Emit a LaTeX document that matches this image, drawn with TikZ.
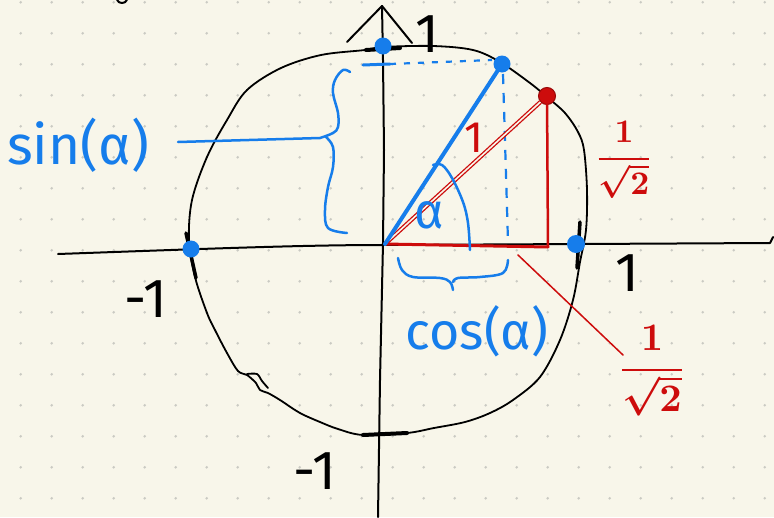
\documentclass[tikz,border=0pt]{standalone}
\usepackage{fontspec}
\usepackage{amsmath}
\usepackage{graphicx}
\setmainfont{Fira Sans}
\definecolor{bg}{RGB}{248,246,234}
\definecolor{dotc}{RGB}{202,202,195}
\definecolor{pblue}{RGB}{22,125,235}
\definecolor{pred}{RGB}{205,12,12}
\begin{document}
\begin{tikzpicture}[x=1pt,y=-1pt,
  ink/.style={draw=black,line width=2pt,line cap=round,line join=round},
  tickmark/.style={draw=black,line width=4pt,line cap=round},
  bink/.style={draw=pblue,line width=3pt,line cap=round,line join=round},
  rink/.style={draw=pred,line width=2.5pt,line cap=round,line join=round},
  bdot/.style={circle,fill=pblue,inner sep=0pt,minimum size=17pt},
  rdot/.style={circle,fill=pred,draw=pred!75!black,line width=1pt,inner sep=0pt,minimum size=17pt},
  lbl/.style={inner sep=0pt,font=\fontsize{55}{60}\selectfont},
]
\useasboundingbox (0,0) rectangle (774,517);
\fill[bg] (0,0) rectangle (774,517);
\foreach \i in {0,...,24} \foreach \j in {0,...,16} \fill[dotc] (20.7+31*\i,2.3+31*\j) circle (1.4pt);

% named points
\coordinate (O) at (385,244);
\coordinate (ytop) at (382,6);
\coordinate (ybot) at (378,517);
\coordinate (xl) at (58,254);
\coordinate (xr) at (770,243);
\coordinate (F) at (548,247);
\coordinate (Py) at (390,64);
\coordinate (Pyend) at (492,60);
\coordinate (Pxtop) at (503,74);
\coordinate (Px) at (508,242);
\coordinate (sinstart) at (178,142);
\coordinate (sincusp) at (320,138);
\coordinate (rl1) at (518,255);
\coordinate (rl2) at (623,355);

% stray mark at top left
\draw[ink] (117,0) .. controls (119,4) and (125,4) .. (127,0);

% axes
\draw[ink] (xl) .. controls (200,249) and (300,245) .. (383,245) -- (582,244) -- (xr) -- (773,237);
\draw[ink] (ytop) -- (383,60) -- (384,150) -- (383,243) -- (380,380) -- (ybot);
\draw[ink] (347,42) -- (ytop) -- (412,43);

% circle
\draw[ink,line width=1.8pt] plot[smooth cycle,tension=0.55] coordinates {
 (383,47) (433,46) (473,50) (500,62) (530,83) (547,97) (565,113) (578,132) (584,150)
 (587,190) (586,230) (580,262) (573,300) (560,340) (540,377) (513,400) (490,413)
 (465,422) (434,428) (407,433) (363,435) (338,429) (320,422) (300,413) (280,400)
 (268,393) (260,390) (256,383) (247,375) (238,371) (227,353) (215,330) (207,313)
 (195,277) (189,240) (192,200) (207,157) (227,120) (247,90) (281,68) (321,55) (365,50)};
\draw[ink,line width=1.8pt] plot[smooth,tension=0.5] coordinates {(247,374) (257,374) (262,381) (268,388)};

% ticks on the circle
\draw[tickmark] (366,50) -- (400,48);
\draw[tickmark] (363,435) -- (407,433);
\draw[tickmark,line width=3.5pt] (186,233) -- (196,278);
\draw[tickmark,line width=3.5pt] (580,222) -- (577,268);

% points on the circle
\node[bdot,minimum width=15pt] (Ntop) at (383,46) {};
\node[bdot] (Nleft) at (191,249) {};
\node[bdot,minimum size=18pt] (Nright) at (576,244) {};
\node[bdot] (P) at (502,64) {};
\node[rdot] (R) at (547,96) {};

% blue projections
\draw[pblue,line width=3pt,line cap=round] (363,65) -- (Py);
\draw[pblue,line width=2.2pt,dash pattern=on 6pt off 8pt] (Py) -- (Pyend);
\draw[pblue,line width=2.2pt,dash pattern=on 10pt off 9pt] (Pxtop) -- (Px);

% red triangle
\draw[pred,line width=1.3pt,double=bg,double distance=1.6pt] (O) -- (R);
\draw[rink,line width=3pt] (O) -- (F);
\draw[rink] (R) -- (F);
\draw[pred,line width=1.5pt,line cap=round] (rl1) -- (rl2);

% blue radius
\draw[bink,line width=4pt] (O) -- (P);

% angle arc
\draw[bink,line width=2.5pt] plot[smooth,tension=0.6] coordinates {(433,165) (442,165) (452,178) (463,202) (468,223) (470,250)};

% cos brace
\draw[bink,line width=2.5pt] plot[smooth,tension=0.6] coordinates {(398,258) (402,270) (413,277) (440,278) (450,282) (453,290)};
\draw[bink,line width=2.5pt] plot[smooth,tension=0.6] coordinates {(453,282) (458,278) (480,277) (503,273) (508,260)};

% sin brace
\draw[bink,line width=2.5pt] plot[smooth,tension=0.6] coordinates {(350,72) (343,70) (335,80) (333,93) (338,113) (338,127) (333,133) (320,138)};
\draw[bink,line width=2.5pt] plot[smooth,tension=0.6] coordinates {(326,137) (333,147) (333,167) (328,187) (325,210) (328,228) (347,233)};
\draw[bink,line width=2.5pt] (sinstart) -- (sincusp);

% labels
\node[lbl] (onetop) at (427,34) {1};
\node[lbl] (oneright) at (627,273) {1};
\node[lbl] (mleft) at (146,299) {-1};
\node[lbl] (mbot) at (315,471) {-1};
\node[lbl,text=pblue] (sinlbl) at (78,145) {sin(α)};
\node[lbl,text=pblue,font=\fontsize{52}{60}\selectfont] (coslbl) at (477,331) {cos(α)};
\node[lbl,text=pblue,font=\fontsize{50}{60}\selectfont] (alpha) at (429,215) {α};
\node[lbl,text=pred,font=\fontsize{44}{50}\selectfont] (hyp) at (474,138) {1};
\node[text=pred,inner sep=0pt] (fracA) at (624,160) {\scalebox{3.3}{\boldmath$\displaystyle\frac{1}{\sqrt{2}}$}};
\node[text=pred,inner sep=0pt] (fracB) at (652,371) {\scalebox{3.9}{\boldmath$\displaystyle\frac{1}{\sqrt{2}}$}};
\end{tikzpicture}
\end{document}
